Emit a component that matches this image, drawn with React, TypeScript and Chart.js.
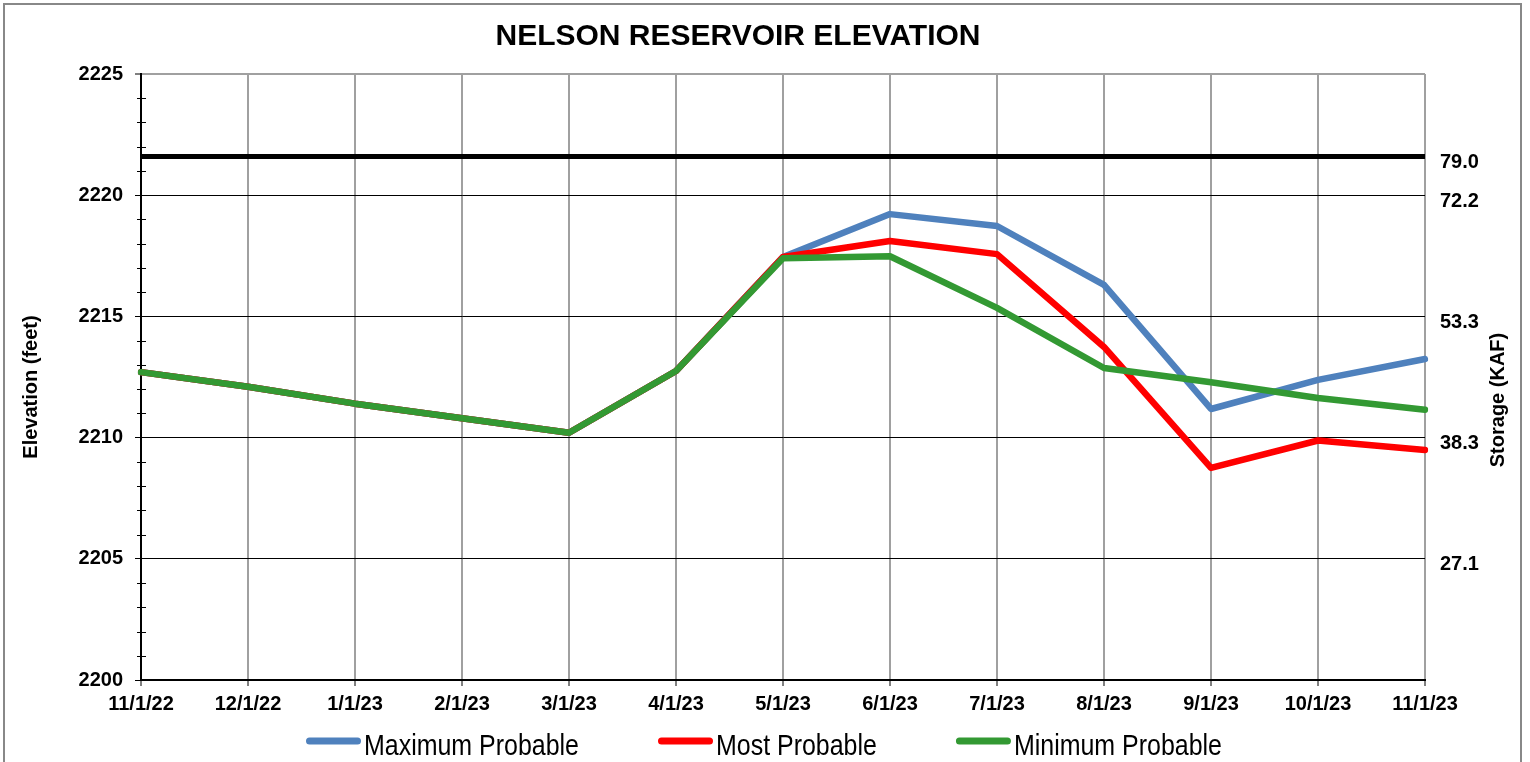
import React, { useEffect, useRef } from 'react';
import { Chart, registerables } from 'chart.js';

Chart.register(...registerables);

// ---- data ----
const categories = ['11/1/22', '12/1/22', '1/1/23', '2/1/23', '3/1/23', '4/1/23', '5/1/23', '6/1/23', '7/1/23', '8/1/23', '9/1/23', '10/1/23', '11/1/23'];
const maxProbable = [2212.7, 2212.1, 2211.4, 2210.8, 2210.2, 2212.75, 2217.45, 2219.22, 2218.73, 2216.3, 2211.18, 2212.38, 2213.24];
const mostProbable = [2212.7, 2212.1, 2211.4, 2210.8, 2210.2, 2212.75, 2217.45, 2218.11, 2217.57, 2213.74, 2208.75, 2209.88, 2209.49];
const minProbable = [2212.7, 2212.1, 2211.4, 2210.8, 2210.2, 2212.75, 2217.4, 2217.48, 2215.35, 2212.87, 2212.28, 2211.63, 2211.15];
const fullPoolElevation = 2221.6;
const elevationMin = 2200;
const elevationMax = 2225;
const elevationStep = 5;
const storageTickElevations = [2221.6, 2220, 2215, 2210, 2205];
const storageTickLabels = ['79.0', '72.2', '53.3', '38.3', '27.1'];
const chartTitle = 'NELSON RESERVOIR ELEVATION';
const leftAxisTitle = 'Elevation (feet)';
const rightAxisTitle = 'Storage (KAF)';
const seriesNames = ['Maximum Probable', 'Most Probable', 'Minimum Probable'];
const seriesColors = ['#4F81BD', '#FF0000', '#339933'];

const FONT = '"Liberation Sans", Arial, Helvetica, sans-serif';

const decorPlugin = {
  id: 'decor',
  beforeDraw(chart: any) {
    const { ctx, width, height } = chart;
    ctx.save();
    ctx.fillStyle = '#ffffff';
    ctx.fillRect(0, 0, width, height);
    ctx.strokeStyle = '#888888';
    ctx.lineWidth = 2;
    ctx.strokeRect(4, 4, 1517, height + 20);
    ctx.restore();
  },
  afterDraw(chart: any) {
    const { ctx, chartArea } = chart;
    const yScale = chart.scales.y;
    ctx.save();
    // minor ticks on elevation axis
    ctx.strokeStyle = '#000';
    ctx.lineWidth = 1;
    for (let v = elevationMin + 1; v < elevationMax; v++) {
      if (v % elevationStep === 0) continue;
      const py = Math.round(yScale.getPixelForValue(v)) + 0.5;
      ctx.beginPath();
      ctx.moveTo(chartArea.left - 4, py);
      ctx.lineTo(chartArea.left + 5, py);
      ctx.stroke();
    }
    // title
    ctx.fillStyle = '#000';
    ctx.font = `bold 30px ${FONT}`;
    ctx.textAlign = 'center';
    ctx.textBaseline = 'middle';
    ctx.fillText(chartTitle, 738, 37);
    // axis titles
    ctx.font = `bold 20px ${FONT}`;
    ctx.save();
    ctx.translate(31, 387);
    ctx.rotate(-Math.PI / 2);
    ctx.fillText(leftAxisTitle, 0, 0);
    ctx.restore();
    ctx.save();
    ctx.translate(1498, 400);
    ctx.rotate(-Math.PI / 2);
    ctx.fillText(rightAxisTitle, 0, 0);
    ctx.restore();
    // legend
    ctx.font = `30px "Liberation Sans Narrow", ${FONT}`;
    const measured = ctx.measureText(seriesNames[0]).width;
    const sx = 215 / measured;
    const sampleLen = 55;
    const gap = 3;
    const spacing = 79;
    const widths = seriesNames.map((n) => ctx.measureText(n).width * sx);
    const total = widths.reduce((a, w) => a + sampleLen + gap + w, 0) + spacing * (seriesNames.length - 1);
    let x = 764 - total / 2;
    const ly = 741;
    ctx.textAlign = 'left';
    ctx.textBaseline = 'alphabetic';
    seriesNames.forEach((name, i) => {
      ctx.strokeStyle = seriesColors[i];
      ctx.lineWidth = 7;
      ctx.lineCap = 'round';
      ctx.beginPath();
      ctx.moveTo(x + 3.5, ly);
      ctx.lineTo(x + sampleLen - 3.5, ly);
      ctx.stroke();
      const tx = x + sampleLen + gap;
      ctx.save();
      ctx.translate(tx, 755);
      ctx.scale(sx, 1);
      ctx.fillStyle = '#000';
      ctx.fillText(name, 0, 0);
      ctx.restore();
      x = tx + widths[i] + spacing;
    });
    ctx.restore();
  },
};

export default function App() {
  const canvasRef = useRef<HTMLCanvasElement | null>(null);

  useEffect(() => {
    if (!canvasRef.current) return;
    const lineDs = (label: string, data: number[], color: string, order: number) => ({
      label,
      data,
      borderColor: color,
      backgroundColor: color,
      borderWidth: 6.5,
      pointRadius: 0,
      pointHoverRadius: 0,
      tension: 0,
      borderJoinStyle: 'round',
      borderCapStyle: 'round',
      fill: false,
      order,
    });
    const chart = new Chart(canvasRef.current, {
      type: 'line',
      data: {
        labels: categories,
        datasets: [
          {
            label: 'Full Pool',
            data: [
              { x: categories[0], y: fullPoolElevation },
              { x: categories[categories.length - 1], y: fullPoolElevation },
            ],
            borderColor: '#000000',
            backgroundColor: '#000000',
            borderWidth: 5,
            pointRadius: 0,
            tension: 0,
            fill: false,
            order: 0,
          } as any,
          lineDs(seriesNames[0], maxProbable, seriesColors[0], 3) as any,
          lineDs(seriesNames[1], mostProbable, seriesColors[1], 2) as any,
          lineDs(seriesNames[2], minProbable, seriesColors[2], 1) as any,
        ],
      },
      options: {
        responsive: false,
        animation: false,
        devicePixelRatio: 1,
        layout: { padding: { top: 74, left: 0, right: 0, bottom: 0 } },
        plugins: {
          legend: { display: false },
          title: { display: false },
          tooltip: { enabled: false },
        },
        scales: {
          x: {
            type: 'category',
            offset: false,
            grid: {
              color: '#A0A0A0',
              lineWidth: 2,
              tickColor: '#000000',
              tickLength: 6,
              tickWidth: 1,
            },
            border: { color: '#000000', width: 2 },
            ticks: {
              color: '#000000',
              font: { family: FONT, size: 20, weight: 'bold' },
              padding: 6,
              maxRotation: 0,
              minRotation: 0,
              autoSkip: false,
            },
            afterFit: (scale: any) => {
              scale.height = 82;
            },
          },
          y: {
            type: 'linear',
            position: 'left',
            min: elevationMin,
            max: elevationMax,
            ticks: {
              stepSize: elevationStep,
              color: '#000000',
              font: { family: FONT, size: 20, weight: 'bold' },
              padding: 12,
              callback: (v: any) => String(v),
            },
            grid: {
              color: (c: any) => (c.tick && c.tick.value === elevationMax ? '#A0A0A0' : '#000000'),
              lineWidth: (c: any) => (c.tick && c.tick.value === elevationMax ? 2 : 1),
              tickColor: '#000000',
              tickLength: 6,
              tickWidth: 1,
            },
            border: { color: '#000000', width: 2 },
            afterFit: (scale: any) => {
              scale.width = 141;
            },
          },
          y2: {
            type: 'linear',
            position: 'right',
            min: elevationMin,
            max: elevationMax,
            afterBuildTicks: (scale: any) => {
              scale.ticks = storageTickElevations.map((v) => ({ value: v }));
            },
            ticks: {
              autoSkip: false,
              color: '#000000',
              font: { family: FONT, size: 20, weight: 'bold' },
              padding: 15,
              labelOffset: 6,
              callback: (_v: any, i: number) => storageTickLabels[i],
            },
            grid: { display: false, drawTicks: false },
            border: { display: false },
            afterFit: (scale: any) => {
              scale.width = 105;
            },
          },
        },
      } as any,
      plugins: [decorPlugin],
    });
    return () => chart.destroy();
  }, []);

  return (
    <div style={{ position: 'absolute', left: 0, top: 0, width: 1530, height: 762 }}>
      <canvas ref={canvasRef} width={1530} height={762} style={{ display: 'block' }} />
    </div>
  );
}
